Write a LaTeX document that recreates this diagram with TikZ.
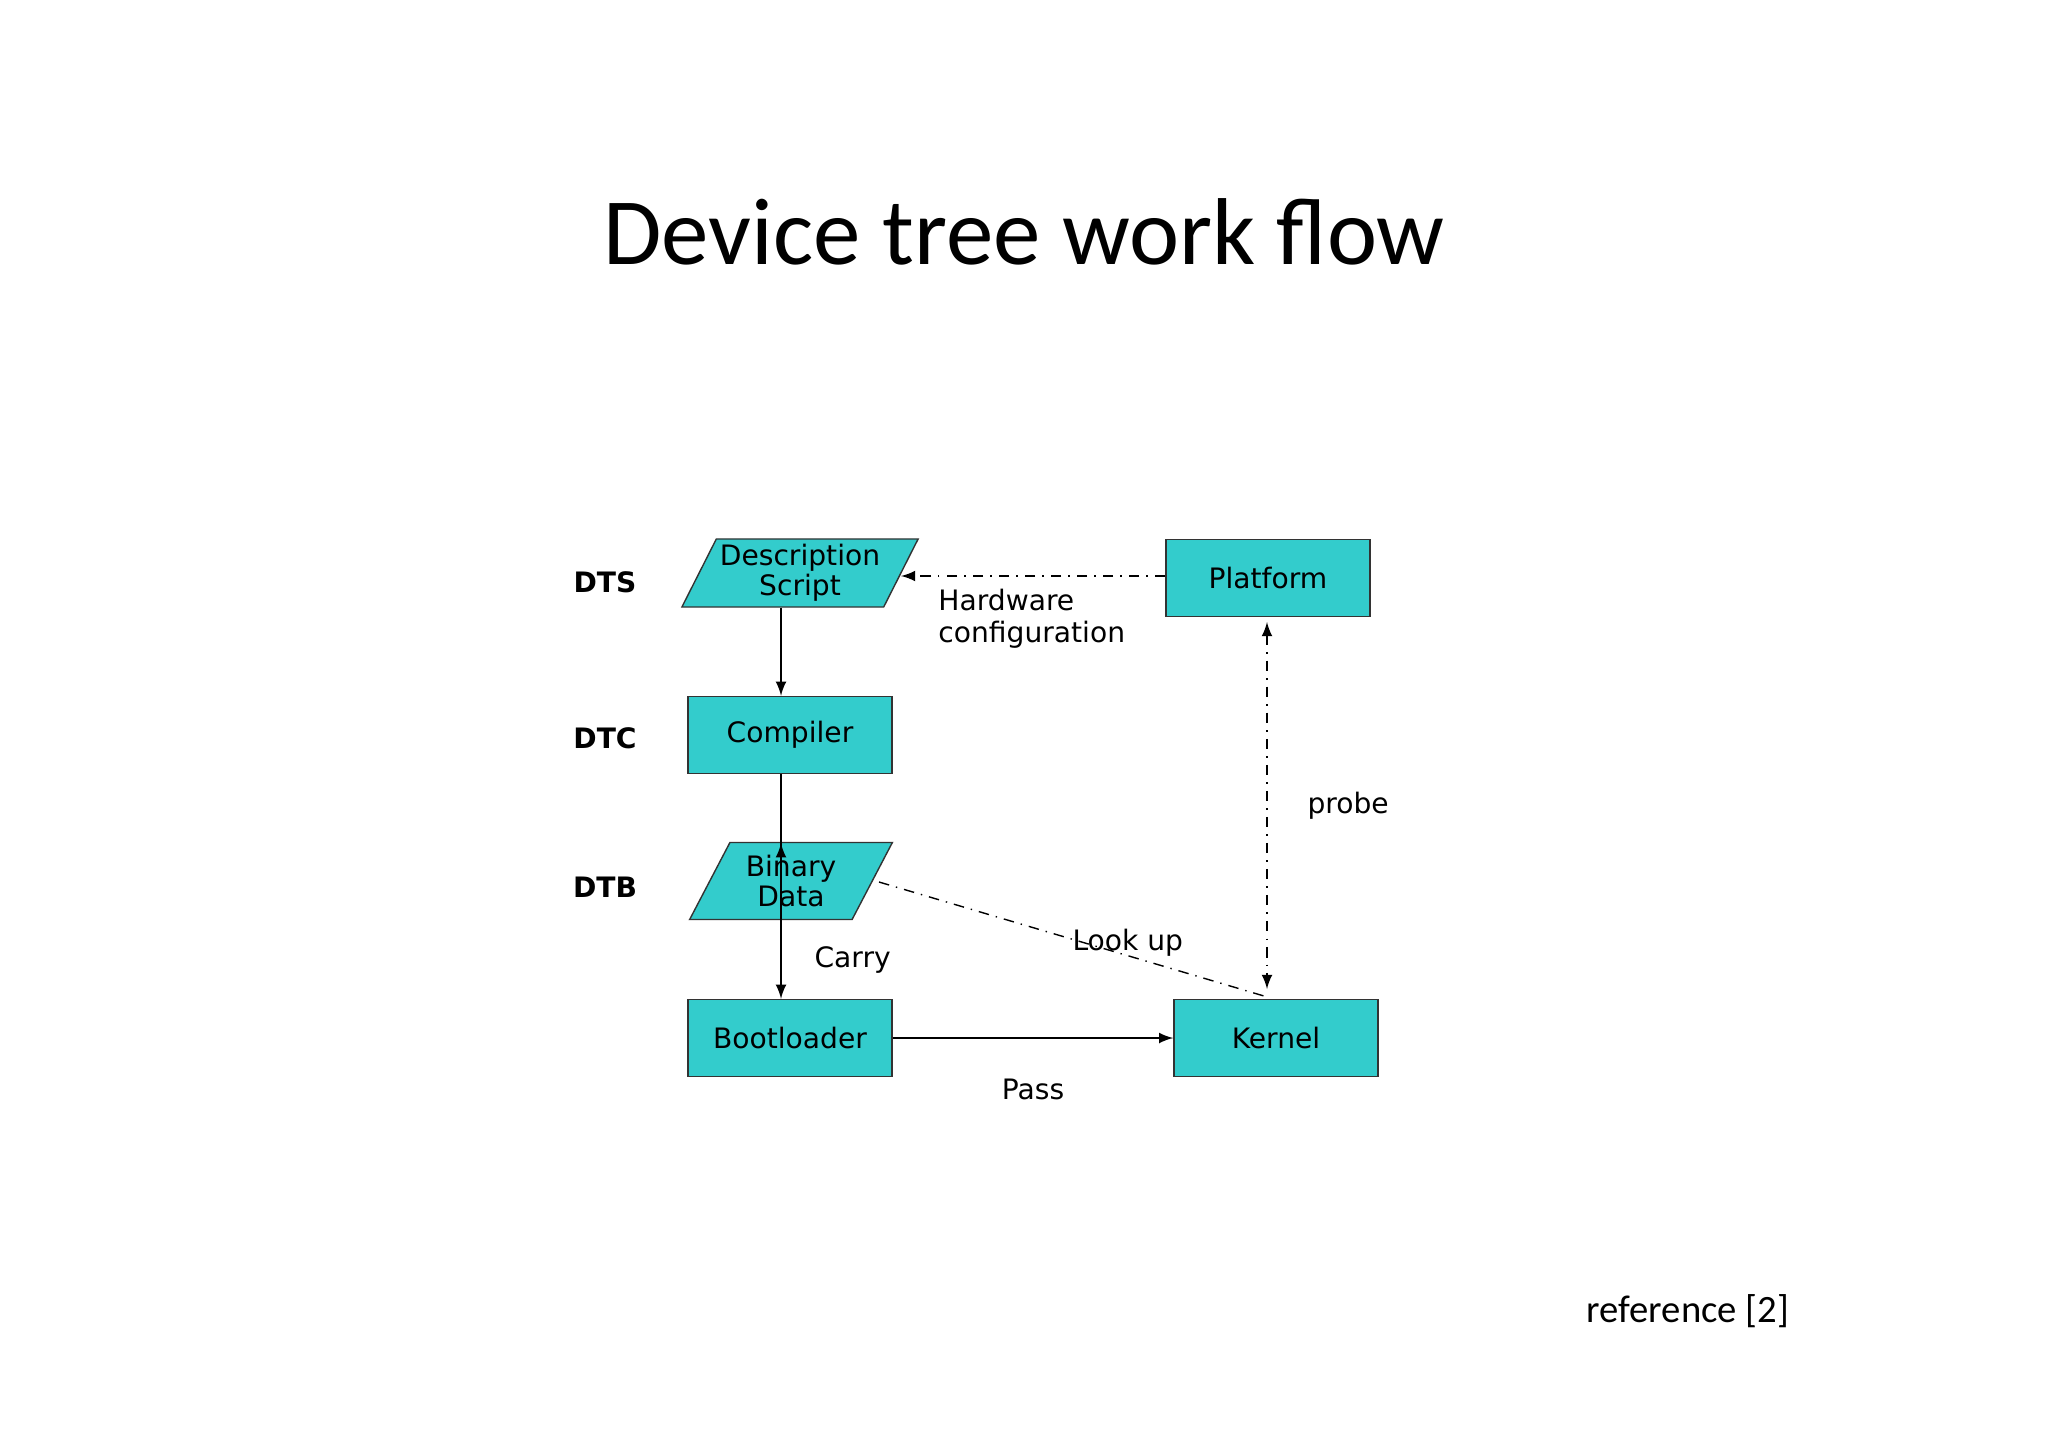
\documentclass[tikz,border=0pt]{standalone}
\usepackage{fontspec}
\setmainfont{DejaVu Sans}
\newfontfamily\titlefont{Carlito}
\usetikzlibrary{shapes.geometric}
\definecolor{boxfill}{RGB}{51,204,204}
\begin{document}
\begin{tikzpicture}[x=0.01cm, y=-0.01cm, >=latex,
    box/.style={draw=black!80, fill=boxfill, minimum width=2.04cm, minimum height=0.77cm, font=\fontsize{8}{9}\selectfont},
    data/.style={box, trapezium, trapezium left angle=60, trapezium right angle=120, trapezium stretches=true,
      align=center, inner sep=0pt, minimum width=2.37cm, minimum height=0.68cm, font=\fontsize{8}{8.5}\selectfont},
    tag/.style={font=\fontsize{8}{9}\selectfont\bfseries},
    lbl/.style={font=\fontsize{8}{9}\selectfont, align=left}]

      \useasboundingbox (0,0) rectangle (2048,1448);

      \node[font=\titlefont\fontsize{27}{30}\selectfont] (title) at (1024,232) {Device tree work flow};
      \node[font=\titlefont\fontsize{11}{13}\selectfont] (ref) at (1688,1311) {reference [2]};

      \node[data] (dts) at (800,573) {Description\\Script};
      \node[box] (platform) at (1268,578) {Platform};
      \node[box] (dtc) at (790,735) {Compiler};
      \node[data, minimum width=2.03cm, minimum height=0.77cm] (dtb) at (791,881) {Binary\\Data};
      \node[box] (boot) at (790,1038) {Bootloader};
      \node[box] (kernel) at (1276,1038) {Kernel};

      \node[tag] (tdts) at (605,582) {DTS};
      \node[tag] (tdtc) at (605,738) {DTC};
      \node[tag] (tdtb) at (605,887) {DTB};

      \coordinate (k) at (1264,996);
      \draw[->] (dts.south -| 781,0) -- (dtc.north -| 781,0);
      \draw[->] (dtc.south -| 781,0) -- (dtb.south -| 781,0) ++(0,-77);
      \draw[->] (dtb.south -| 781,0) -- node[lbl, right, xshift=6pt] {Carry} (boot.north -| 781,0);
      \draw[->] (boot) -- node[lbl, below, yshift=-8pt] {Pass} (kernel);
      \draw[->, dash dot] (platform.west |- 0,576) -- (901,576);
      \draw[<->, dash dot] (1267,622) -- node[lbl, right, xshift=8pt] {probe} (1267,989);
      \draw[dash dot] (879,882) -- node[lbl, pos=0.58, above right, xshift=-12pt, yshift=-6pt] {Look up} (k);

      \node[lbl, anchor=west] (hw) at (926,619) {Hardware\\configuration};
\end{tikzpicture}
\end{document}
